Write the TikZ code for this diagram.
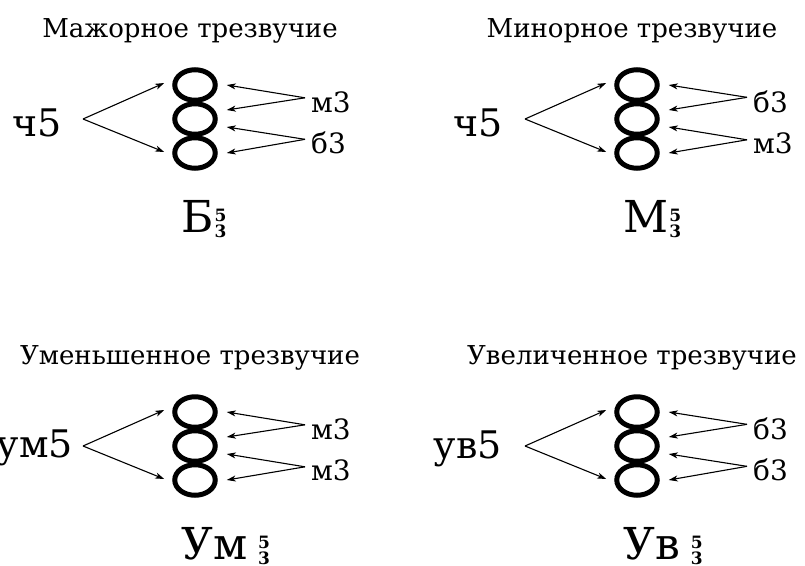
\documentclass[tikz,border=0pt]{standalone}
\usepackage{fontspec}
\setmainfont{DejaVu Serif}
\usetikzlibrary{shapes.geometric, arrows.meta}
\tikzstyle{note} = [ellipse, draw, line width=5pt, inner sep=0pt, minimum width=40.5pt, minimum height=30.5pt]
\tikzstyle{line} = [draw, line width=1.1pt, -{Stealth[length=9pt,width=6pt,inset=2.5pt]}]
\tikzstyle{title} = [inner sep=0pt, anchor=base, font=\fontsize{26}{26}\selectfont]
\tikzstyle{big} = [inner sep=0pt, anchor=base east, font=\fontsize{38}{38}\selectfont]
\tikzstyle{small} = [inner sep=0pt, anchor=base west, font=\fontsize{28}{28}\selectfont]
\tikzstyle{chord} = [inner sep=0pt, anchor=base west, font=\fontsize{44}{44}\selectfont]
\newcommand{\figs}{\raisebox{-5pt}{\fontsize{17}{17}\selectfont\bfseries\shortstack{5\\3}}}
% one triad: name, shift, title, interval, its place, upper third, lower third, sign, gap
\newcommand{\triad}[9]{%
  \begin{scope}[shift={#2}]
    \node [title] (#1-t) at (190,37) {#3};
    \node [note] (#1-a) at (195,85) {};
    \node [note] (#1-b) at (195,119) {};
    \node [note] (#1-c) at (195,153) {};
    \node [big] (#1-l) at #5 {#4};
    \coordinate (#1-f) at (83,119);
    \node [small] (#1-u) at (311,112) {#6};
    \node [small] (#1-d) at (311,153) {#7};
    \node [chord] (#1-s) at (181,232) {#8\hspace{#9}\figs};
    \path [line] (#1-f) -- ([shift={(-8pt,2pt)}]#1-a.west);
    \path [line] (#1-f) -- ([shift={(-8pt,1pt)}]#1-c.west);
    \path [line] ([shift={(-6pt,4pt)}]#1-u.west) -- ([xshift=9pt]#1-a.east);
    \path [line] ([shift={(-6pt,4pt)}]#1-u.west) -- ([shift={(9pt,9pt)}]#1-b.east);
    \path [line] ([shift={(-6pt,3pt)}]#1-d.west) -- ([shift={(9pt,-8pt)}]#1-b.east);
    \path [line] ([shift={(-6pt,3pt)}]#1-d.west) -- ([xshift=9pt]#1-c.east);
  \end{scope}}
\begin{document}
\begin{tikzpicture}[x=1pt, y=-1pt]
    \useasboundingbox (0,0) rectangle (805,565);
    % Place triads
    \triad{maj}{(0,0)}{Мажорное трезвучие}{ч5}{(62,136)}{м3}{б3}{Б}{1pt}
    \triad{min}{(442,0)}{Минорное трезвучие}{ч5}{(61,136)}{б3}{м3}{М}{1pt}
    \triad{dim}{(0,327)}{Уменьшенное трезвучие}{ум5}{(73,130)}{м3}{м3}{Ум}{11pt}
    \triad{aug}{(442,327)}{Увеличенное трезвучие}{ув5}{(60,131)}{б3}{б3}{Ув}{11pt}
\end{tikzpicture}
\end{document}
